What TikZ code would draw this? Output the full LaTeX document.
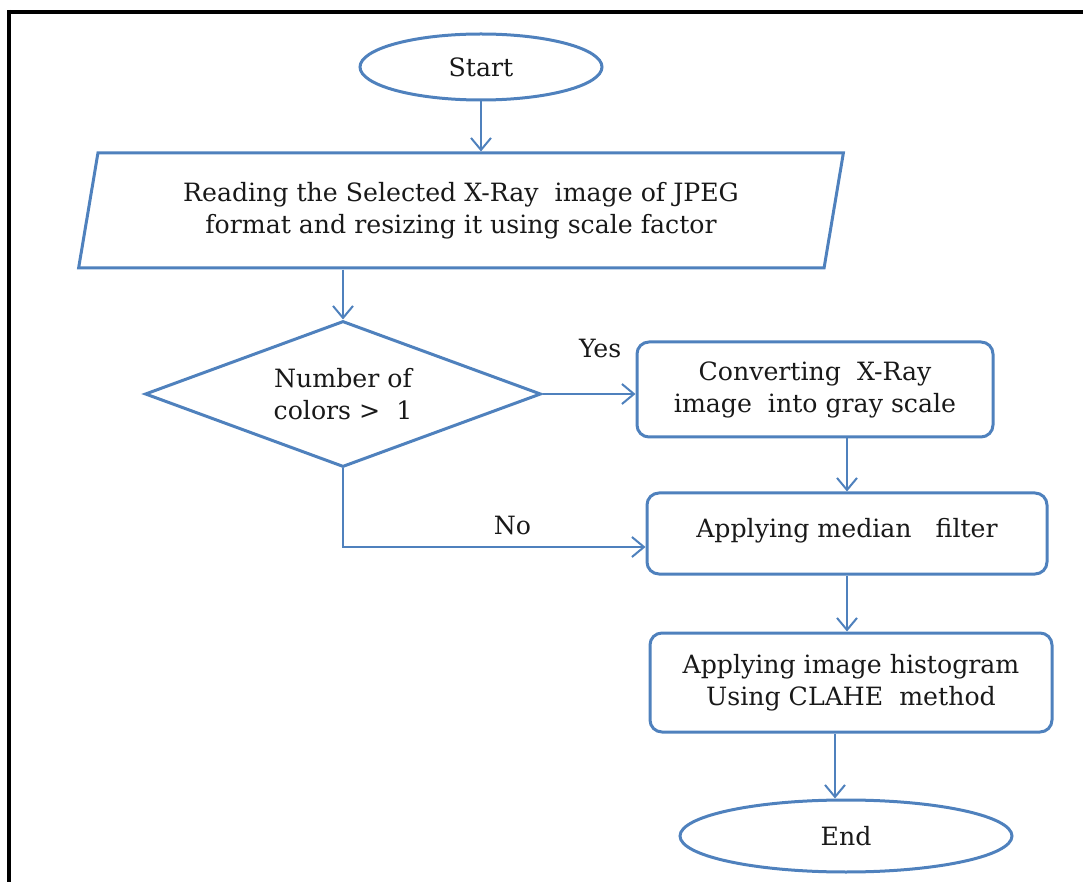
\documentclass[tikz,border=0pt]{standalone}
\usepackage{fontspec}
\setmainfont{DejaVu Serif}
\usetikzlibrary{shapes.geometric,arrows.meta}
\definecolor{flowblue}{RGB}{79,129,189}
\begin{document}
\begin{tikzpicture}[x=0.5pt,y=-0.5pt,
  every node/.style={font=\fontsize{12.6pt}{16pt}\selectfont, text=black!90},
  outline/.style={draw=flowblue, line width=1.5pt, inner sep=0pt},
  terminal/.style={outline, ellipse},
  stepbox/.style={outline, rectangle, rounded corners=6pt, align=center},
  flow/.style={draw=flowblue, line width=1pt, -{Straight Barb[length=6pt,width=10pt]}},
  tag/.style={font=\fontsize{12.6pt}{14pt}\selectfont}]
  \useasboundingbox (0,0) rectangle (1083,882);
  % frame
  \draw[line width=2pt] (7,12) -- (1083,12);
  \draw[line width=2pt] (9,10) -- (9,882);

  % blocks
  \node[terminal, minimum width=121pt, minimum height=33pt] (start) at (481,67) {Start};
  \node[outline, trapezium, trapezium stretches=true, trapezium left angle=75.4, trapezium right angle=104.6,
        minimum width=384pt, minimum height=57.5pt, align=center] (read) at (461,210.5)
        {Reading the Selected X-Ray~~image of JPEG\\format and resizing it using scale factor};
  \node[outline, diamond, aspect=2.7, minimum width=198pt, minimum height=73pt, align=center] (dec) at (343,394)
        {Number of\\colors~>~~1};
  \node[stepbox, minimum width=178pt, minimum height=47.5pt] (conv) at (815,389.5)
        {Converting~~X-Ray\\image~~into gray scale};
  \node[stepbox, minimum width=200pt, minimum height=40.5pt] (med) at (847,533.5)
        {\raisebox{5.5pt}{Applying median~~~filter}};
  \node[stepbox, minimum width=201pt, minimum height=49.5pt] (clahe) at (851,682.5)
        {Applying image histogram\\Using CLAHE~~method};
  \node[terminal, minimum width=166pt, minimum height=36pt] (end) at (846,836) {End};

  % connectors
  \draw[flow] (start.south) -- (start.south |- read.north);
  \draw[flow] (dec.north |- read.south) -- (dec.north);
  \draw[flow] (dec.east) -- (dec.east -| conv.west) node[tag, pos=0.62, above=14pt] {Yes};
  \draw[flow] (dec.south) |- ([yshift=-6.75pt]med.west) node[tag, pos=0.78, above=2pt] {No};
  \draw[flow] (med.north |- conv.south) -- (med.north);
  \draw[flow] (med.south) -- (med.south |- clahe.north);
  \draw[flow] ([xshift=-8pt]clahe.south) -- ([xshift=-8pt]clahe.south |- end.north);
\end{tikzpicture}
\end{document}
